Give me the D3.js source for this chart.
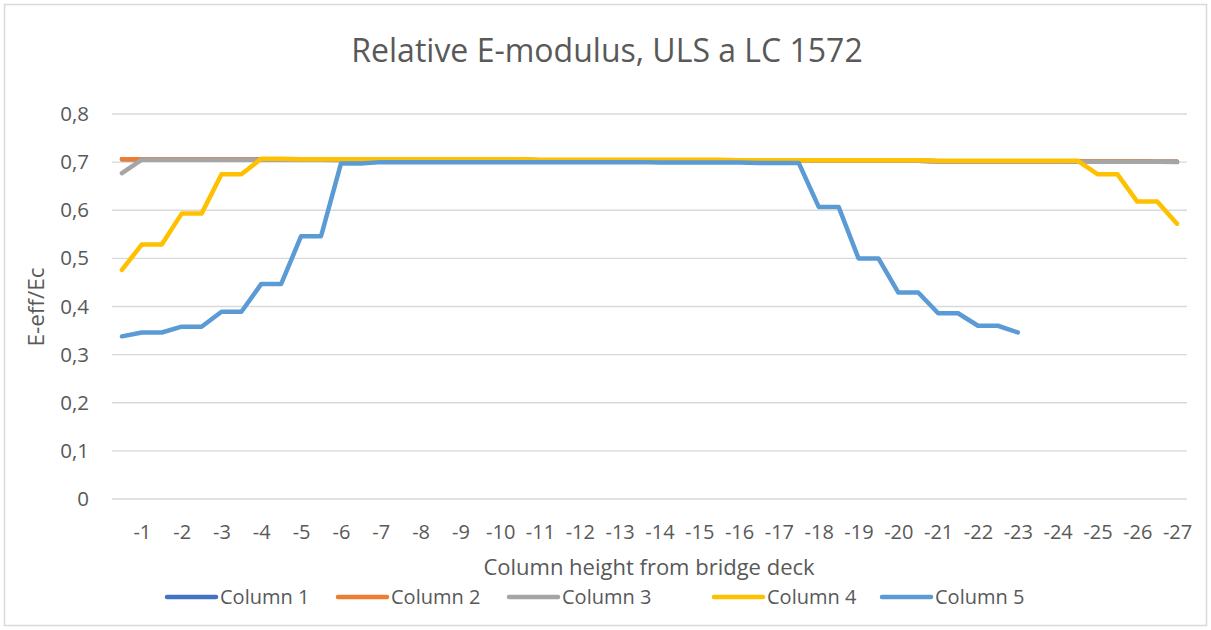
<!DOCTYPE html>
<html>
<head>
<meta charset="utf-8">
<script src="https://cdn.jsdelivr.net/npm/d3@7"></script>
<style>
  html, body { margin: 0; padding: 0; background: #fff; }
  svg { display: block; font-family: "Open Sans", "Noto Sans", sans-serif; }
</style>
</head>
<body>
<svg id="chart" width="1211" height="630"></svg>
<script>
// Heights below the bridge deck, every half metre (labels shown at whole metres)
const heights = [
  -0.5, -1, -1.5, -2, -2.5, -3, -3.5, -4, -4.5, -5, -5.5, -6, -6.5, -7, -7.5, -8, -8.5, -9,
  -9.5, -10, -10.5, -11, -11.5, -12, -12.5, -13, -13.5, -14, -14.5, -15, -15.5, -16, -16.5, -17,
  -17.5, -18, -18.5, -19, -19.5, -20, -20.5, -21, -21.5, -22, -22.5, -23, -23.5, -24, -24.5, -25,
  -25.5, -26, -26.5, -27
];

const yTicks = [0, 0.1, 0.2, 0.3, 0.4, 0.5, 0.6, 0.7, 0.8];
const seriesNames = ["Column 1", "Column 2", "Column 3", "Column 4", "Column 5"];
const seriesColors = ["#4472C4", "#ED7D31", "#A5A5A5", "#FFC000", "#5B9BD5"];

// E-eff/Ec per column
const column1 = [
  0.706, 0.706, 0.706, 0.706, 0.706, 0.706, 0.706, 0.706, 0.706, 0.706, 0.705, 0.705, 0.705, 0.705,
  0.705, 0.705, 0.705, 0.705, 0.705, 0.705, 0.705, 0.704, 0.704, 0.704, 0.704, 0.704, 0.704, 0.704,
  0.704, 0.704, 0.703, 0.703, 0.703, 0.703, 0.703, 0.703, 0.703, 0.703, 0.703, 0.703, 0.703, 0.702,
  0.702, 0.702, 0.702, 0.702, 0.702, 0.702, 0.702, 0.702, 0.702, 0.702, 0.701, 0.701
];
const column2 = [
  0.706, 0.706, 0.706, 0.706, 0.706, 0.706, 0.706, 0.706, 0.706, 0.706, 0.705, 0.705, 0.705, 0.705,
  0.705, 0.705, 0.705, 0.705, 0.705, 0.705, 0.705, 0.704, 0.704, 0.704, 0.704, 0.704, 0.704, 0.704,
  0.704, 0.704, 0.703, 0.703, 0.703, 0.703, 0.703, 0.703, 0.703, 0.703, 0.703, 0.703, 0.703, 0.702,
  0.702, 0.702, 0.702, 0.702, 0.702, 0.702, 0.702, 0.702, 0.702, 0.702, 0.701, 0.701
];
const column3 = [
  0.677, 0.705, 0.705, 0.705, 0.705, 0.705, 0.705, 0.705, 0.705, 0.705, 0.705, 0.704, 0.704, 0.704,
  0.704, 0.704, 0.704, 0.704, 0.704, 0.704, 0.704, 0.704, 0.704, 0.704, 0.704, 0.704, 0.703, 0.703,
  0.703, 0.703, 0.703, 0.703, 0.703, 0.703, 0.703, 0.703, 0.703, 0.703, 0.703, 0.703, 0.703, 0.702,
  0.702, 0.702, 0.702, 0.702, 0.702, 0.702, 0.701, 0.701, 0.701, 0.701, 0.701, 0.700
];
const column4 = [
  0.476, 0.529, 0.529, 0.593, 0.593, 0.675, 0.675, 0.707, 0.707, 0.706, 0.706, 0.706, 0.706, 0.706,
  0.706, 0.706, 0.706, 0.706, 0.706, 0.706, 0.706, 0.705, 0.705, 0.705, 0.705, 0.705, 0.705, 0.705,
  0.705, 0.705, 0.705, 0.704, 0.704, 0.704, 0.704, 0.704, 0.704, 0.704, 0.704, 0.704, 0.704, 0.703,
  0.703, 0.703, 0.703, 0.703, 0.703, 0.703, 0.703, 0.675, 0.675, 0.618, 0.618, 0.572
];
const column5 = [
  0.338, 0.346, 0.346, 0.358, 0.358, 0.389, 0.389, 0.447, 0.447, 0.546, 0.546, 0.697, 0.697, 0.700,
  0.700, 0.700, 0.700, 0.700, 0.700, 0.700, 0.700, 0.700, 0.700, 0.700, 0.700, 0.700, 0.700, 0.699,
  0.699, 0.699, 0.699, 0.699, 0.698, 0.698, 0.698, 0.607, 0.607, 0.500, 0.500, 0.429, 0.429, 0.386,
  0.386, 0.360, 0.360, 0.346
];
const seriesValues = [column1, column2, column3, column4, column5];

const W = 1211, H = 630;
const plot = { left: 112, right: 1187, top: 114, bottom: 499 };
const textColor = "#595959";
const font = "'Open Sans', sans-serif";

const svg = d3.select("#chart");

// outer chart frame
svg.append("rect")
  .attr("x", 4.5).attr("y", 4.5)
  .attr("width", W - 9).attr("height", H - 9)
  .attr("fill", "#fff").attr("stroke", "#d9d9d9").attr("stroke-width", 1.5);

const x = d3.scalePoint().domain(heights).range([plot.left, plot.right]).padding(0.5);
const y = d3.scaleLinear().domain([0, 0.8]).range([plot.bottom, plot.top]);

// horizontal gridlines
svg.append("g")
  .selectAll("line")
  .data(yTicks)
  .join("line")
  .attr("x1", plot.left).attr("x2", plot.right)
  .attr("y1", d => y(d)).attr("y2", d => y(d))
  .attr("stroke", "#d9d9d9").attr("stroke-width", 1.3);

// y axis labels
const yAxis = d3.axisLeft(y).tickValues(yTicks).tickSize(0).tickPadding(23)
  .tickFormat(d => d3.format(".1~f")(d).replace(".", ","));
svg.append("g")
  .attr("transform", `translate(${plot.left},0)`)
  .call(yAxis)
  .call(g => g.select(".domain").remove())
  .call(g => g.selectAll("text").attr("fill", textColor).style("font-size", "20.5px")
    .style("font-family", font));

// x axis labels on whole metres
const xAxis = d3.axisBottom(x)
  .tickValues(heights.filter(h => Number.isInteger(h)))
  .tickSize(0).tickPadding(26)
  .tickFormat(d => String(d));
svg.append("g")
  .attr("transform", `translate(0,${plot.bottom})`)
  .call(xAxis)
  .call(g => g.select(".domain").remove())
  .call(g => g.selectAll("text").attr("fill", textColor).style("font-size", "20px")
    .style("font-family", font));

// series lines
const line = d3.line()
  .x((d, i) => x(heights[i]))
  .y(d => y(d));

svg.append("g")
  .selectAll("path")
  .data(seriesValues)
  .join("path")
  .attr("d", d => line(d))
  .attr("fill", "none")
  .attr("stroke", (d, i) => seriesColors[i])
  .attr("stroke-width", 4.5)
  .attr("stroke-linejoin", "round")
  .attr("stroke-linecap", "round");

// title
svg.append("text")
  .attr("x", 607).attr("y", 62)
  .attr("text-anchor", "middle")
  .attr("fill", textColor)
  .style("font-size", "32px")
  .text("Relative E-modulus, ULS a LC 1572");

// axis titles
svg.append("text")
  .attr("x", 649).attr("y", 575)
  .attr("text-anchor", "middle")
  .attr("fill", textColor)
  .style("font-size", "22px")
  .text("Column height from bridge deck");

svg.append("text")
  .attr("transform", "translate(44,307) rotate(-90)")
  .attr("text-anchor", "middle")
  .attr("fill", textColor)
  .style("font-size", "22.5px")
  .text("E-eff/Ec");

// legend
const legendX = [165, 336, 507, 712, 880];
const legend = svg.append("g")
  .selectAll("g")
  .data(seriesNames)
  .join("g")
  .attr("transform", (d, i) => `translate(${legendX[i]},597)`);
legend.append("line")
  .attr("x1", 2).attr("x2", 51)
  .attr("stroke", (d, i) => seriesColors[i])
  .attr("stroke-width", 4.5)
  .attr("stroke-linecap", "round");
legend.append("text")
  .attr("x", 55).attr("dy", "0.35em")
  .attr("fill", textColor)
  .style("font-size", "20px")
  .text(d => d);
</script>
</body>
</html>
